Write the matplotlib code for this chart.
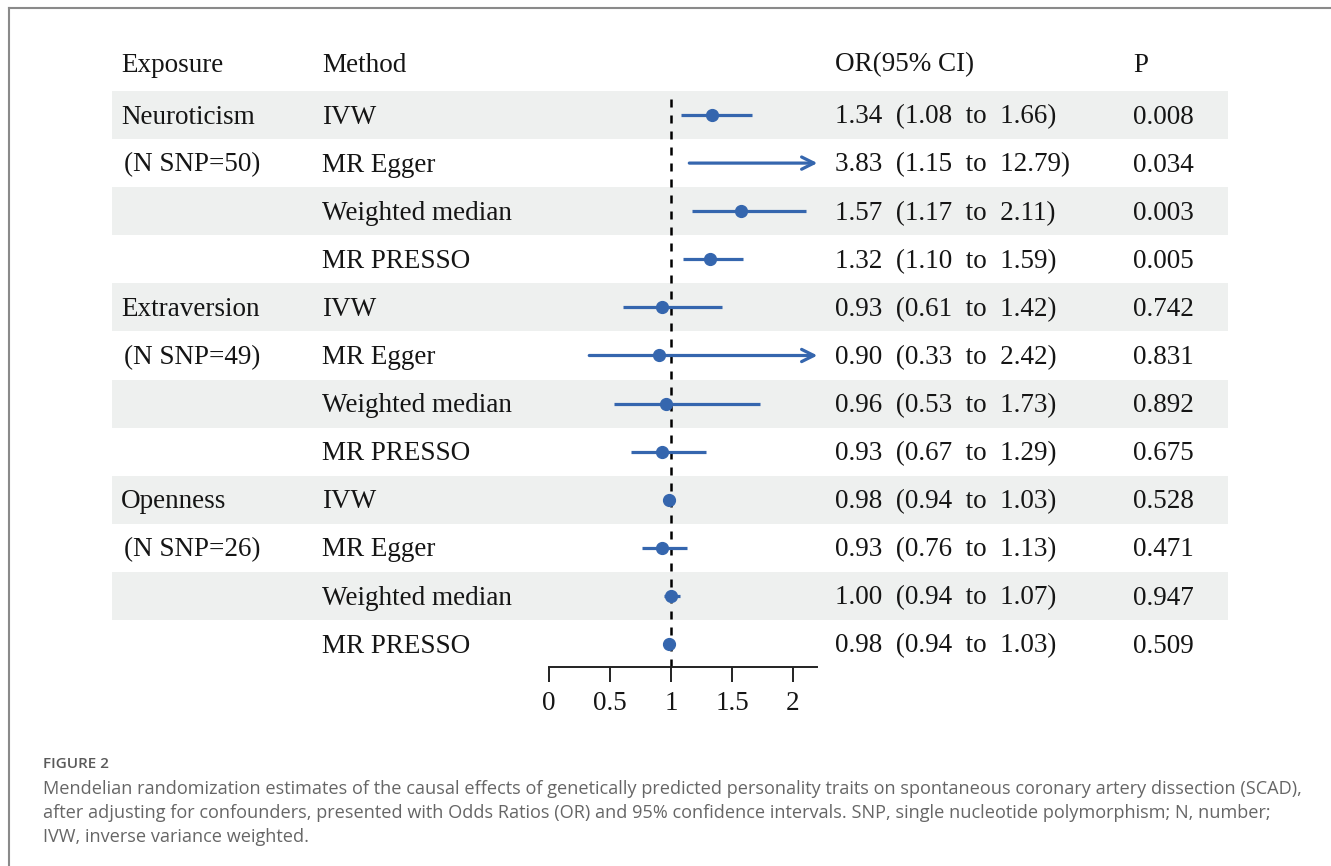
import matplotlib
matplotlib.use("Agg")
import matplotlib.pyplot as plt

# ---------------- data ----------------
exposures = ["Neuroticism", "Extraversion", "Openness"]
n_snp = [50, 49, 26]
methods = ["IVW", "MR Egger", "Weighted median", "MR PRESSO"]
or_vals = [1.34, 3.83, 1.57, 1.32, 0.93, 0.90, 0.96, 0.93, 0.98, 0.93, 1.00, 0.98]
ci_low = [1.08, 1.15, 1.17, 1.10, 0.61, 0.33, 0.53, 0.67, 0.94, 0.76, 0.94, 0.94]
ci_high = [1.66, 12.79, 2.11, 1.59, 1.42, 2.42, 1.73, 1.29, 1.03, 1.13, 1.07, 1.03]
p_vals = ["0.008", "0.034", "0.003", "0.005", "0.742", "0.831", "0.892", "0.675",
          "0.528", "0.471", "0.947", "0.509"]
headers = ["Exposure", "Method", "OR(95% CI)", "P"]
x_ticks = [0, 0.5, 1, 1.5, 2]
x_max = 2.2

# ---------------- layout helpers ----------------
W, H = 1331, 866
fig = plt.figure(figsize=(W / 100, H / 100), dpi=100)
fig.patch.set_facecolor("white")


def rect(x0, y0, x1, y1):
    return [x0 / W, 1 - y1 / H, (x1 - x0) / W, (y1 - y0) / H]


row0_px, row_h = 115.0, 48.1
to_row = lambda px: (px - row0_px) / row_h
dy = 2.0 / row_h  # small downward nudge for text

TFONT = "Liberation Serif"
FS = 19.5
TXT = "#151515"
BLUE = "#3566AE"
BAND = "#EEF0EF"

# frame lines
frame = fig.add_axes([0, 0, 1, 1])
frame.set_xlim(0, W)
frame.set_ylim(H, 0)
frame.axis("off")
frame.plot([9, W], [7.5, 7.5], color="#8a8a8a", lw=1.5)
frame.plot([9, 9], [7.5, H], color="#8a8a8a", lw=1.5)

# table axes
tx0, tx1, ty0, ty1 = 112, 1228, 30, 690
tab = fig.add_axes(rect(tx0, ty0, tx1, ty1))
tab.set_xlim(0, 1)
tab.set_ylim(to_row(ty1), to_row(ty0))
tab.axis("off")
fx = lambda px: (px - tx0) / (tx1 - tx0)

n_rows = len(or_vals)
for i in range(0, n_rows, 2):
    tab.axhspan(i - 0.5, i + 0.5, color=BAND, lw=0, zorder=0)

col_px = [121, 322, 835, 1133]
hdr_y = to_row(63) + dy
for h, cx in zip(headers, col_px):
    tab.text(fx(cx), hdr_y, h, family=TFONT, fontsize=FS, va="center", ha="left", color=TXT)

for g, (exp, n) in enumerate(zip(exposures, n_snp)):
    r = g * len(methods)
    tab.text(fx(121), r + dy, exp, family=TFONT, fontsize=FS, va="center", color=TXT)
    tab.text(fx(124), r + 1 + dy, f"(N SNP={n})", family=TFONT, fontsize=FS, va="center", color=TXT)
    for k, m in enumerate(methods):
        tab.text(fx(322), r + k + dy, m, family=TFONT, fontsize=FS, va="center", color=TXT)

for i in range(n_rows):
    s = f"{or_vals[i]:.2f}  ({ci_low[i]:.2f}  to  {ci_high[i]:.2f})"
    tab.text(fx(835), i + dy, s, family=TFONT, fontsize=FS, va="center", color=TXT)
    tab.text(fx(1133), i + dy, p_vals[i], family=TFONT, fontsize=FS, va="center", color=TXT)

# forest axes
x0_px, px_per_unit = 549.0, 122.0
fx1_px = x0_px + x_max * px_per_unit
fy0_px, fy1_px = row0_px - 0.5 * row_h, 667.0
ax = fig.add_axes(rect(x0_px, fy0_px, fx1_px, fy1_px))
ax.set_facecolor("none")
ax.set_xlim(0, x_max)
ax.set_ylim(to_row(fy1_px), to_row(fy0_px))
for sp in ["top", "left", "right"]:
    ax.spines[sp].set_visible(False)
ax.spines["bottom"].set_linewidth(1.4)
ax.spines["bottom"].set_color("#222222")
ax.set_yticks([])
ax.set_xticks(x_ticks)
ax.set_xticklabels([f"{t:g}" for t in x_ticks], family=TFONT, fontsize=FS)
ax.tick_params(axis="x", direction="out", length=11, width=1.4, color="#222222",
               pad=6, labelcolor=TXT)

ax.axvline(1, color="black", lw=1.8, ls=(0, (3.2, 3.2)), zorder=1)

for i in range(n_rows):
    lo, hi, v = ci_low[i], ci_high[i], or_vals[i]
    if hi > x_max:
        ax.annotate("", xy=(x_max, i), xytext=(lo, i),
                    arrowprops=dict(arrowstyle="->", lw=2.3, color=BLUE,
                                    mutation_scale=22, shrinkA=0, shrinkB=0),
                    zorder=3)
    else:
        ax.plot([lo, hi], [i, i], color=BLUE, lw=2.3, solid_capstyle="butt", zorder=3)
    if v <= x_max:
        ax.plot([v], [i], "o", color=BLUE, ms=8.5, zorder=4)

# caption
CAP = "Open Sans"
CAP_C = "#666666"
fig.text(43 / W, 1 - 764 / H, "FIGURE 2", family=CAP, fontsize=11, fontweight="semibold",
         color="#5a5a5a", va="center")
cap_lines = [
    "Mendelian randomization estimates of the causal effects of genetically predicted personality traits on spontaneous coronary artery dissection (SCAD),",
    "after adjusting for confounders, presented with Odds Ratios (OR) and 95% confidence intervals. SNP, single nucleotide polymorphism; N, number;",
    "IVW, inverse variance weighted.",
]
for j, line in enumerate(cap_lines):
    fig.text(43 / W, 1 - (789 + 24 * j) / H, line, family=CAP, fontsize=13.05,
             color=CAP_C, va="center")

fig.savefig("out.png", dpi=100)
